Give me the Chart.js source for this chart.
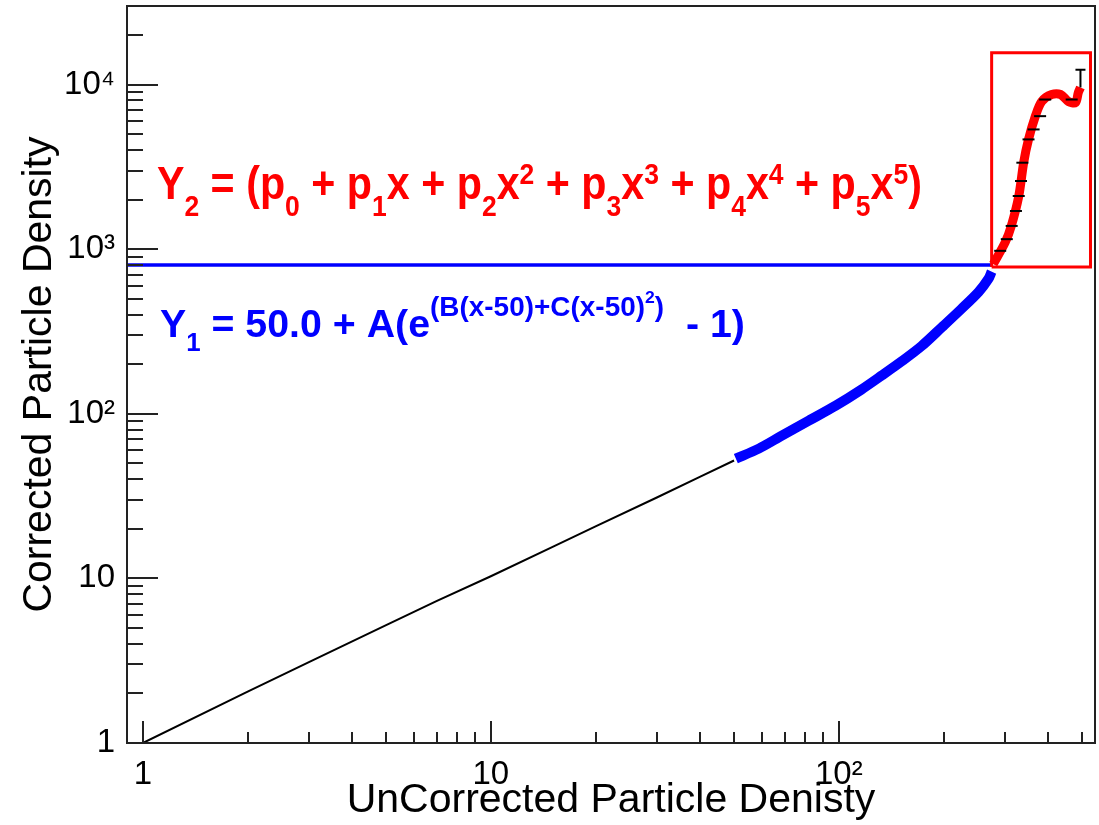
<!DOCTYPE html>
<html>
<head>
<meta charset="utf-8">
<script src="https://cdn.jsdelivr.net/npm/chart.js@4.4.0/dist/chart.umd.min.js"></script>
<style>
  html, body { margin: 0; padding: 0; background: #fff; }
</style>
</head>
<body>
<canvas id="density" width="1099" height="825"></canvas>
<script>
// measured points below the fit range (black histogram)
var lowX = [1, 2, 3, 5, 7, 10, 15, 20, 30, 40, 50];
var lowY = [1, 2.05, 3.1, 5.2, 7.3, 10.3, 15.5, 20.7, 31, 41.5, 52];

// exponential fit, Y1 (blue)
var fitX = [50.6, 58.9, 68.6, 82, 98, 116, 133, 152, 173, 198, 225, 252, 269, 275];
var fitY = [53.4, 61.4, 73.6, 90.8, 112, 140, 171, 209, 258, 336, 433, 548, 658, 730];

// polynomial fit, Y2 (red)
var polyX = [278, 301, 313, 329, 340, 351, 367, 383, 409, 434, 457, 479, 488, 495];
var polyY = [811, 1103, 1378, 2094, 3367, 4642, 6400, 7890, 8690, 8700, 7890, 7770, 8940, 9600];

// bin-width marks of the data on the high end
var binX = [291, 304, 314, 323, 329, 334, 337, 351, 363, 379, 392, 467];
var binY = [977, 1150, 1384, 1706, 2103, 2594, 3351, 4642, 5337, 6426, 8110, 8110];

// error bar on the last point
var errX = [495, 495];
var errY = [9600, 12300];

// switch-over level and the window of the Y2 fit
var switchY = 800;
var switchX = [0.9, 275];
var boxX = [275, 529, 529, 275, 275];
var boxY = [780, 780, 15600, 15600, 780];

var xTicks = [1, 10, 100];
var yTicks = [1, 10, 100, 1000, 10000];
var tickText = { 1: '1', 10: '10', 100: '10\u00b2', 1000: '10\u00b3', 10000: '10\u2074' };

function pts(xs, ys) {
  return xs.map(function (x, i) { return { x: x, y: ys[i] }; });
}

var FONT = '"Liberation Sans", Arial, Helvetica, sans-serif';

// formula annotations: [text, size factor, baseline shift in em]
var formulas = [
  {
    atX: 1.097, atY: 2010, width: 765, size: 42, sy: 1.1, color: '#ff0000',
    parts: [
      ['Y', 1, 0], ['2', 0.65, 0.36], [' = (p', 1, 0], ['0', 0.65, 0.36],
      [' + p', 1, 0], ['1', 0.65, 0.36], ['x + p', 1, 0], ['2', 0.65, 0.36],
      ['x', 1, 0], ['2', 0.65, -0.33], [' + p', 1, 0], ['3', 0.65, 0.36],
      ['x', 1, 0], ['3', 0.65, -0.33], [' + p', 1, 0], ['4', 0.65, 0.36],
      ['x', 1, 0], ['4', 0.65, -0.33], [' + p', 1, 0], ['5', 0.65, 0.36],
      ['x', 1, 0], ['5', 0.65, -0.33], [')', 1, 0]
    ]
  },
  {
    atX: 1.119, atY: 293, width: 585, size: 38, sy: 1, color: '#0000ff',
    parts: [
      ['Y', 1, 0], ['1', 0.65, 0.38], [' = 50.0 + A(e', 1, 0],
      ['(B(x-50)+C(x-50)', 0.72, -0.55], ['2', 0.45, -0.9], [')', 0.72, -0.55],
      ['  - 1)', 1, 0]
    ]
  }
];

function logSteps(min, max) {
  var out = [];
  for (var e = Math.floor(Math.log10(min)); e <= Math.ceil(Math.log10(max)); e++) {
    for (var m = 1; m <= 9; m++) {
      var v = m * Math.pow(10, e);
      if (v > min && v < max) out.push({ v: v, major: m === 1 });
    }
  }
  return out;
}

var rootFrame = {
  id: 'rootFrame',
  afterDraw: function (chart) {
    var ctx = chart.ctx, a = chart.chartArea;
    var xs = chart.scales.x, ys = chart.scales.y;
    ctx.save();
    ctx.strokeStyle = '#222';
    ctx.lineWidth = 2;
    ctx.beginPath();
    logSteps(xs.min, xs.max).forEach(function (t) {
      var px = Math.round(xs.getPixelForValue(t.v));
      ctx.moveTo(px, a.bottom);
      ctx.lineTo(px, a.bottom - (t.major ? 22 : 11));
    });
    logSteps(ys.min, ys.max).forEach(function (t) {
      var py = Math.round(ys.getPixelForValue(t.v));
      ctx.moveTo(a.left, py);
      ctx.lineTo(a.left + (t.major ? 31 : 16), py);
    });
    ctx.stroke();
    ctx.strokeRect(a.left, a.top, a.right - a.left, a.bottom - a.top);

    formulas.forEach(function (f) {
      var x0 = xs.getPixelForValue(f.atX), y0 = ys.getPixelForValue(f.atY);
      var w = 0;
      f.parts.forEach(function (p) {
        ctx.font = 'bold ' + Math.round(f.size * p[1]) + 'px ' + FONT;
        w += ctx.measureText(p[0]).width;
      });
      ctx.save();
      ctx.translate(x0, y0);
      ctx.scale(f.width / w, f.sy);
      ctx.fillStyle = f.color;
      ctx.textBaseline = 'alphabetic';
      ctx.textAlign = 'left';
      var cx = 0;
      f.parts.forEach(function (p) {
        ctx.font = 'bold ' + Math.round(f.size * p[1]) + 'px ' + FONT;
        ctx.fillText(p[0], cx, p[2] * f.size);
        cx += ctx.measureText(p[0]).width;
      });
      ctx.restore();
    });
    ctx.restore();
  }
};

new Chart(document.getElementById('density').getContext('2d'), {
  type: 'scatter',
  plugins: [rootFrame],
  data: {
    datasets: [
      { data: pts(binX, binY), showLine: false, pointStyle: 'line', pointRadius: 6,
        pointBorderWidth: 2, borderColor: '#000', order: 0 },
      { data: pts(errX, errY), showLine: true, borderColor: '#000', borderWidth: 2,
        pointStyle: 'line', pointRadius: [0, 5], pointBorderWidth: 2, order: 1 },
      { data: pts(polyX, polyY), showLine: true, borderColor: '#ff0000', borderWidth: 9,
        tension: 0.3, borderJoinStyle: 'round', pointRadius: 0, order: 2 },
      { data: pts(boxX, boxY), showLine: true, borderColor: '#ff0000', borderWidth: 3,
        pointRadius: 0, order: 3 },
      { data: pts(fitX, fitY), showLine: true, borderColor: '#0000ff', borderWidth: 10,
        tension: 0.3, borderJoinStyle: 'round', pointRadius: 0, order: 4 },
      { data: pts(switchX, [switchY, switchY]), showLine: true, borderColor: '#0000ff',
        borderWidth: 3.5, pointRadius: 0, order: 5 },
      { data: pts(lowX, lowY), showLine: true, borderColor: '#000', borderWidth: 2,
        pointRadius: 0, order: 6 }
    ]
  },
  options: {
    responsive: false,
    animation: false,
    events: [],
    layout: { autoPadding: false, padding: { top: 6, right: 4, left: 0, bottom: 0 } },
    plugins: { legend: { display: false }, tooltip: { enabled: false } },
    scales: {
      x: {
        type: 'logarithmic',
        min: 0.9,
        max: 545,
        grid: { display: false, drawTicks: false },
        border: { display: false },
        afterBuildTicks: function (s) { s.ticks = xTicks.map(function (v) { return { value: v }; }); },
        afterFit: function (s) { s.height = 82; s.paddingLeft = 0; s.paddingRight = 0; },
        ticks: {
          autoSkip: false,
          maxRotation: 0,
          padding: 12,
          color: '#000',
          font: { family: FONT, size: 33 },
          callback: function (v) { return tickText[v] || ''; }
        },
        title: {
          display: true,
          text: 'UnCorrected Particle Denisty',
          color: '#000',
          padding: 0,
          font: { family: FONT, size: 41 }
        }
      },
      y: {
        type: 'logarithmic',
        min: 1,
        max: 30000,
        grid: { display: false, drawTicks: false },
        border: { display: false },
        afterBuildTicks: function (s) { s.ticks = yTicks.map(function (v) { return { value: v }; }); },
        afterFit: function (s) { s.width = 127; s.paddingTop = 0; s.paddingBottom = 0; },
        ticks: {
          autoSkip: false,
          padding: 12,
          color: '#000',
          font: { family: FONT, size: 33 },
          callback: function (v) { return tickText[v] || ''; }
        },
        title: {
          display: true,
          text: 'Corrected Particle Density',
          color: '#000',
          padding: { top: 15, bottom: 0 },
          font: { family: FONT, size: 41 }
        }
      }
    }
  }
});
</script>
</body>
</html>
